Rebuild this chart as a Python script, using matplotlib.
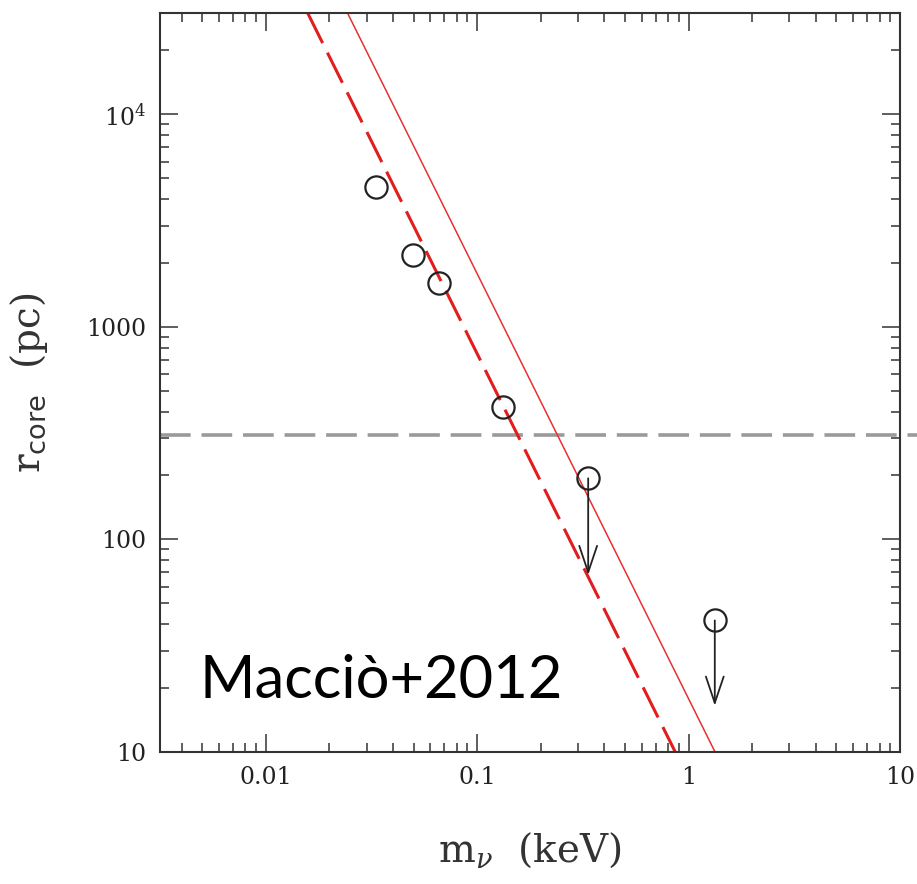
import matplotlib
matplotlib.use("Agg")
import matplotlib.pyplot as plt
from matplotlib.patches import FancyArrowPatch

plt.rcParams['mathtext.fontset'] = 'dejavuserif'

# Core radius measurements (keV, pc)
mass_kev = [0.0332, 0.0499, 0.0658, 0.1328, 0.335, 1.33]
rcore_pc = [4560, 2178, 1612, 421, 194, 41.6]

# Upper limits: (mass, start, tip) of the downward arrows
limit_mass = [0.335, 1.33]
limit_from = [194, 41.6]
limit_to = [68, 16.5]

# Analytic relations, endpoints on the log-log plane
solid_m = [0.02436, 1.334]
solid_r = [30000, 10]
dashed_m = [0.01579, 0.865]
dashed_r = [30000, 10]

# Resolution limit
r_limit = 310

x_ticks = [0.01, 0.1, 1, 10]
x_ticklabels = ['0.01', '0.1', '1', '10']
y_ticks = [10, 100, 1000, 10000]
y_ticklabels = ['10', '100', '1000', r'$\mathregular{10^4}$']

fig = plt.figure(figsize=(9.17, 8.84), dpi=100)
ax = fig.add_axes([0.1745, 0.1493, 0.807, 0.836])
ax.set_xscale('log')
ax.set_yscale('log')
ax.set_xlim(10 ** -2.5, 10)
ax.set_ylim(10, 3e4)

spine_c = '#333333'
for s in ax.spines.values():
    s.set_linewidth(1.5)
    s.set_color(spine_c)

ax.tick_params(which='both', direction='in', top=True, right=True,
               color=spine_c, width=1.1)
ax.tick_params(which='major', length=13, pad=10)
ax.tick_params(which='minor', length=6.5)
ax.set_xticks(x_ticks)
ax.set_xticklabels(x_ticklabels)
ax.set_yticks(y_ticks)
ax.set_yticklabels(y_ticklabels)
for lab in ax.get_xticklabels() + ax.get_yticklabels():
    lab.set_fontfamily('DejaVu Serif')
    lab.set_fontsize(17)
    lab.set_color('#222222')

# relation lines
ax.plot(solid_m, solid_r, color='#e83030', lw=1.1, zorder=2)
ax.plot(dashed_m, dashed_r, color='#e01e1e', lw=2.2, dashes=(11, 3.5), zorder=2)

# resolution limit
ax.plot([0, 1.023], [r_limit, r_limit], transform=ax.get_yaxis_transform(),
        color='#9a9a9a', lw=2.6, dashes=(8.5, 3), clip_on=False, zorder=1)

# data points
ax.plot(mass_kev, rcore_pc, linestyle='none', marker='o', ms=16,
        mfc='none', mec='#222222', mew=1.6, zorder=3)

for m, r0, r1 in zip(limit_mass, limit_from, limit_to):
    arr = FancyArrowPatch((m, r0), (m, r1),
                          arrowstyle='->,head_length=0.95,head_width=0.32',
                          mutation_scale=20, color='#222222', lw=1.3,
                          shrinkA=0, shrinkB=0, zorder=3)
    ax.add_patch(arr)

ax.text(0.054, 0.073, 'Macciò+2012', transform=ax.transAxes,
        fontfamily='Lato', fontsize=43, color='black', ha='left', va='baseline')

ax.set_xlabel(r'm$_{\nu}$  (keV)', fontfamily='DejaVu Serif', fontsize=28,
              color='#333333', labelpad=30)
ax.set_ylabel(r'r$_{\mathsf{core}}$  (pc)', fontfamily='DejaVu Serif',
              fontsize=28, color='#333333', labelpad=26)

fig.savefig('out.png', dpi=100)
